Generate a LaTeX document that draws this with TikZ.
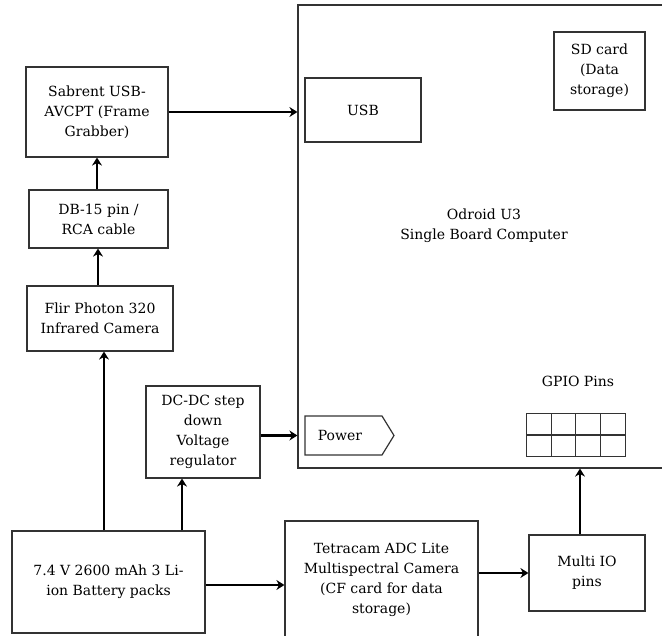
\documentclass[tikz,border=0pt]{standalone}
\usepackage{fontspec}
\setmainfont{DejaVu Serif}
\usetikzlibrary{arrows.meta,calc}
\begin{document}
\begin{tikzpicture}[x=1pt,y=-1pt,
  box/.style={draw=black!80,line width=1.2pt,rectangle,inner sep=0pt,align=center,
    font=\fontsize{14}{20}\selectfont},
  lbl/.style={inner sep=0pt,align=center,font=\fontsize{14}{20}\selectfont},
  thin/.style={draw=black!80,line width=1.2pt},
  arr/.style={line width=2.8pt,-{Stealth[length=8pt,width=10pt]}}]
\useasboundingbox (0,0) rectangle (662,636);
\fill[white] (0,0) rectangle (662,636);
% Odroid board
\node[box,minimum width=382pt,minimum height=463pt] (odroid) at (489,236.5) {};
\node[lbl] (odroidlbl) at (484,226) {Odroid U3\\Single Board Computer};
\node[box,minimum width=116pt,minimum height=64pt] (usb) at (363,110) {USB};
\node[box,minimum width=91pt,minimum height=78pt] (sd) at (599.5,71) {SD card\\(Data\\storage)};
% Power connector
\coordinate (pw1) at (305,416);
\coordinate (pw2) at (382,416);
\coordinate (pw3) at (394,435.5);
\coordinate (pw4) at (382,455);
\coordinate (pw5) at (305,455);
\draw[thin] (pw1) -- (pw2) -- (pw3) -- (pw4) -- (pw5) -- cycle;
\node[lbl] (power) at (340,435.5) {Power};
\coordinate (powerw) at (305,435.5);
% GPIO
\node[lbl] (gpiolbl) at (578,381) {GPIO Pins};
\node[inner sep=0pt,minimum width=98pt,minimum height=42pt] (gpio) at (576,435) {};
\draw[thin] (gpio.north west) rectangle (gpio.south east);
\draw[thin] (gpio.west) -- (gpio.east);
\foreach \i in {1,2,3}{
  \draw[thin] ($(gpio.north west)+(24.5*\i,0)$) -- ($(gpio.south west)+(24.5*\i,0)$);
}
% Left column
\node[box,minimum width=142pt,minimum height=90pt] (sabrent) at (97,112) {Sabrent USB-\\AVCPT (Frame\\Grabber)};
\node[box,minimum width=139pt,minimum height=58pt] (db15) at (98.5,219) {DB-15 pin /\\RCA cable};
\node[box,minimum width=146pt,minimum height=65pt] (flir) at (100,318.5) {Flir Photon 320\\Infrared Camera};
\node[box,minimum width=114pt,minimum height=92pt] (dcdc) at (203,432) {DC-DC step\\down\\Voltage\\regulator};
\node[box,minimum width=193pt,minimum height=102pt] (battery) at (108.5,582) {7.4 V 2600 mAh 3 Li-\\ion Battery packs};
\node[box,minimum width=193pt,minimum height=120pt] (tetra) at (381.5,581) {};
\node[lbl] (tetralbl) at (381.5,580) {Tetracam ADC Lite\\Multispectral Camera\\(CF card for data\\storage)};
\node[box,minimum width=116pt,minimum height=76pt] (multi) at (587,573) {Multi IO\\pins};
% Connectors
\draw[arr] (sabrent.east) -- (sabrent.east -| odroid.west);
\draw[arr] (db15.north -| 97,0) -- (sabrent.south -| 97,0);
\draw[arr] (flir.north -| 98,0) -- (db15.south -| 98,0);
\draw[arr] (battery.north -| 104,0) -- (flir.south -| 104,0);
\draw[arr] (battery.north -| 182,0) -- (dcdc.south -| 182,0);
\draw[arr] (powerw -| dcdc.east) -- (powerw -| odroid.west);
\draw[arr] (battery.east |- 0,585) -- (tetra.west |- 0,585);
\draw[arr] (multi.west -| tetra.east) -- (multi.west);
\draw[arr] (multi.north -| 580,0) -- (odroid.south -| 580,0);
\end{tikzpicture}
\end{document}
